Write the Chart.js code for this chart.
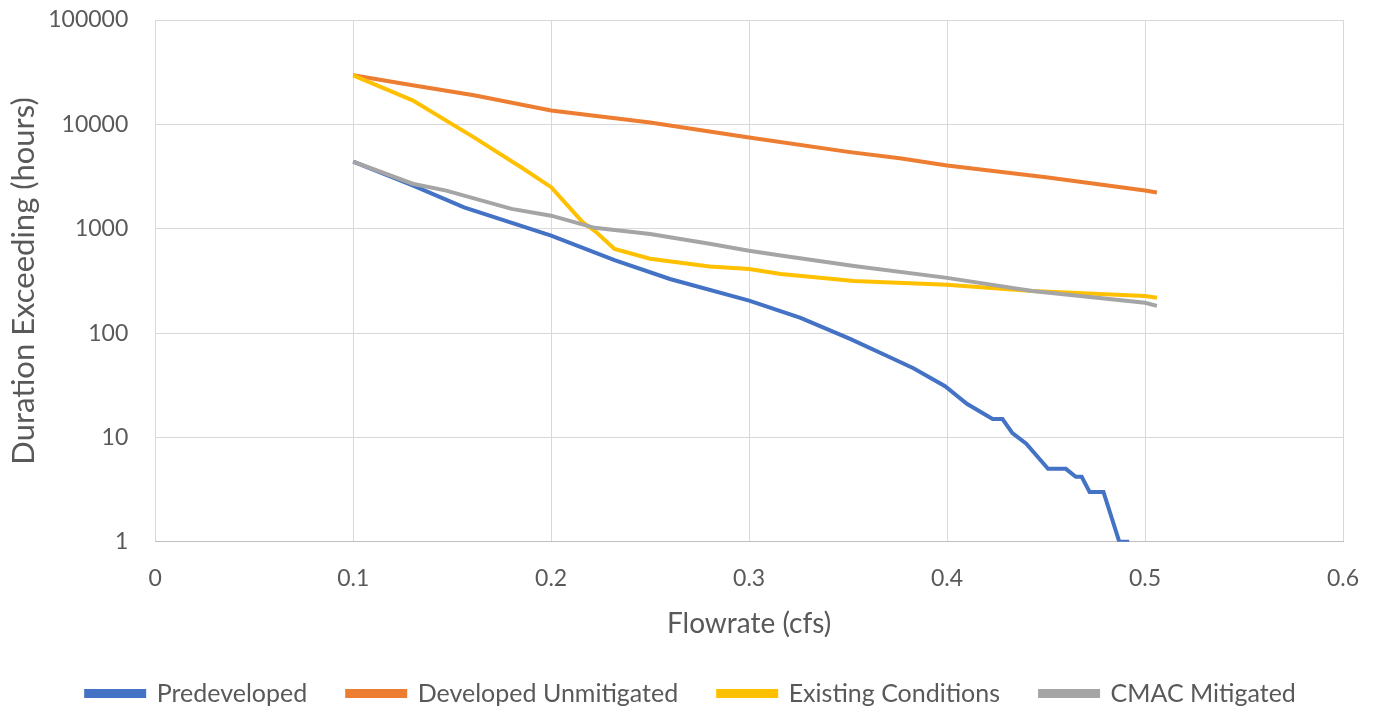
<!DOCTYPE html>
<html>
<head>
<meta charset="utf-8">
<script src="https://cdn.jsdelivr.net/npm/chart.js@4"></script>
<style>
  html, body { margin: 0; padding: 0; background: #fff; }
  #wrap { width: 1377px; height: 717px; }
</style>
</head>
<body>
<div id="wrap"><canvas id="flowChart"></canvas></div>
<script>
// flow duration data
const seriesNames = ["Predeveloped", "Developed Unmitigated", "Existing Conditions", "CMAC Mitigated"];

const preX = [0.1, 0.13, 0.156, 0.2, 0.232, 0.26, 0.3, 0.326, 0.351, 0.37, 0.383, 0.399, 0.41, 0.423, 0.428, 0.433, 0.44, 0.451, 0.46, 0.465, 0.468, 0.472, 0.479, 0.487, 0.492];
const preY = [4400, 2600, 1600, 860, 500, 330, 205, 140, 88, 60, 46, 31, 21, 15, 15, 11, 8.7, 5, 5, 4.2, 4.2, 3, 3, 1, 1];

const devX = [0.1, 0.13, 0.161, 0.2, 0.25, 0.3, 0.35, 0.377, 0.4, 0.45, 0.5, 0.506];
const devY = [29500, 23700, 19000, 13600, 10400, 7500, 5450, 4700, 4040, 3120, 2320, 2220];

const exX = [0.1, 0.13, 0.161, 0.185, 0.2, 0.216, 0.222, 0.232, 0.25, 0.28, 0.3, 0.316, 0.353, 0.4, 0.443, 0.5, 0.506];
const exY = [29500, 17000, 7500, 3860, 2500, 1150, 955, 640, 515, 435, 412, 369, 316, 290, 253, 227, 218];

const cmacX = [0.1, 0.13, 0.147, 0.18, 0.2, 0.222, 0.25, 0.28, 0.3, 0.316, 0.353, 0.4, 0.443, 0.5, 0.506];
const cmacY = [4400, 2700, 2320, 1550, 1334, 1020, 890, 718, 616, 555, 440, 338, 253, 195, 182];

const yTicks = [1, 10, 100, 1000, 10000, 100000];

const colors = ["#4472C4", "#ED7D31", "#FFC000", "#A5A5A5"];
const xs = [preX, devX, exX, cmacX];
const ys = [preY, devY, exY, cmacY];

const toPoints = (x, y) => x.map((v, i) => ({ x: v, y: y[i] }));

const textColor = "#595959";
const family = "Lato, 'Open Sans', sans-serif";
const tickFont = { family: family, size: 23 };

Chart.defaults.color = textColor;
Chart.defaults.font.family = family;

const ctx = document.getElementById("flowChart").getContext("2d");
new Chart(ctx, {
    type: "line",
    data: {
        datasets: seriesNames.map((name, i) => ({
            label: name,
            data: toPoints(xs[i], ys[i]),
            borderColor: colors[i],
            backgroundColor: colors[i],
            borderWidth: 4,
            pointRadius: 0,
            tension: 0,
            // later series sit on top, like the spreadsheet chart
            order: seriesNames.length - i,
        })),
    },
    options: {
        responsive: true,
        maintainAspectRatio: false,
        animation: false,
        layout: {
            padding: { top: 0, right: 0, left: 5, bottom: 1 },
        },
        plugins: {
            legend: {
                position: "bottom",
                reverse: true,
                maxHeight: 75,
                labels: {
                    boxWidth: 58,
                    boxHeight: 5,
                    padding: 40,
                    color: textColor,
                    font: { family: family, size: 25 },
                },
            },
            tooltip: { enabled: false },
        },
        scales: {
            x: {
                type: "linear",
                min: 0,
                max: 0.6,
                afterFit: (scale) => {
                    // tick padding otherwise eats into the right margin
                    scale.paddingRight = 34;
                },
                ticks: {
                    stepSize: 0.1,
                    padding: 23,
                    color: textColor,
                    font: tickFont,
                    callback: (v) => String(Number(v.toFixed(1))),
                },
                grid: { color: "#d9d9d9", drawTicks: false },
                border: { color: "#bfbfbf" },
                title: {
                    display: true,
                    text: "Flowrate (cfs)",
                    color: textColor,
                    font: { family: family, size: 28 },
                    padding: { top: -8, bottom: 0 },
                },
            },
            y: {
                type: "logarithmic",
                min: 1,
                max: 100000,
                afterBuildTicks: (axis) => {
                    axis.ticks = yTicks.map((v) => ({ value: v }));
                },
                afterFit: (scale) => {
                    scale.paddingTop = 20;
                },
                ticks: {
                    padding: 27,
                    color: textColor,
                    font: tickFont,
                    callback: (v) => String(v),
                },
                grid: { color: "#d9d9d9", drawTicks: false },
                border: { display: false },
                title: {
                    display: true,
                    text: "Duration Exceeding (hours)",
                    color: textColor,
                    font: { family: family, size: 31 },
                    padding: { top: 0, bottom: -21 },
                },
            },
        },
    },
});
</script>
</body>
</html>
